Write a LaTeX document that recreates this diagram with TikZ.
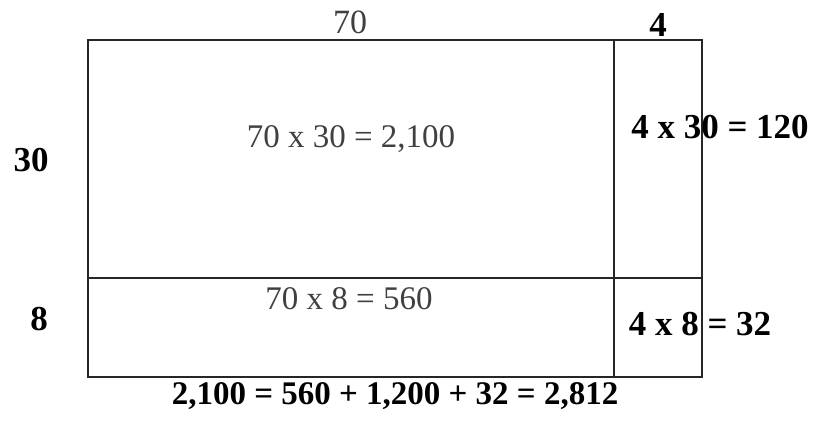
\documentclass[tikz,border=0pt]{standalone}
\usepackage{fontspec}
\setmainfont{Liberation Serif}
\usepackage{tikz}
\usetikzlibrary{positioning}
\tikzset{
  arealine/.style={line width=1.3pt,draw=black!85},
  sidelabel/.style={font=\fontsize{34}{38}\selectfont,text=black!75,inner sep=0pt},
  sidelabelbold/.style={font=\fontsize{35}{38}\selectfont\bfseries,inner sep=0pt},
  partlabel/.style={font=\fontsize{33}{38}\selectfont,text=black!75,inner sep=0pt},
  partlabelbold/.style={font=\fontsize{35}{38}\selectfont\bfseries,inner sep=0pt},
  sumlabel/.style={font=\fontsize{33}{36}\selectfont\bfseries,inner sep=0pt}
}

\begin{document}
\begin{tikzpicture}[x=1pt,y=-1pt]
      \useasboundingbox (0,0) rectangle (819,421);
      % corners of the area model
      \coordinate (tl) at (88,40);
      \coordinate (br) at (702,377);
      \coordinate (splittop) at (614,40);
      \coordinate (splitbot) at (614,377);
      \coordinate (rowleft) at (88,278);
      \coordinate (rowright) at (702,278);
      \draw[arealine] (tl) rectangle (br);
      \draw[arealine] (splittop) -- (splitbot);
      \draw[arealine] (rowleft) -- (rowright);
      % side lengths
      \node[sidelabel] (top70) at (350,22) {70};
      \node[sidelabelbold] (top4) at (658,25) {4};
      \node[sidelabelbold] (left30) at (31,160) {30};
      \node[sidelabelbold] (left8) at (39,319) {8};
      % partial products
      \node[partlabel] (big) at (351,139) {70 x 30 = 2,100};
      \node[partlabel] (low) at (349,299) {70 x 8 = 560};
      \node[partlabelbold] (right) at (720,127) {4 x 30 = 120};
      \node[partlabelbold] (corner) at (700,324) {4 x 8 = 32};
      \node[sumlabel] (total) at (395,396) {2,100 = 560 + 1,200 + 32 = 2,812};
    \end{tikzpicture}
\end{document}
